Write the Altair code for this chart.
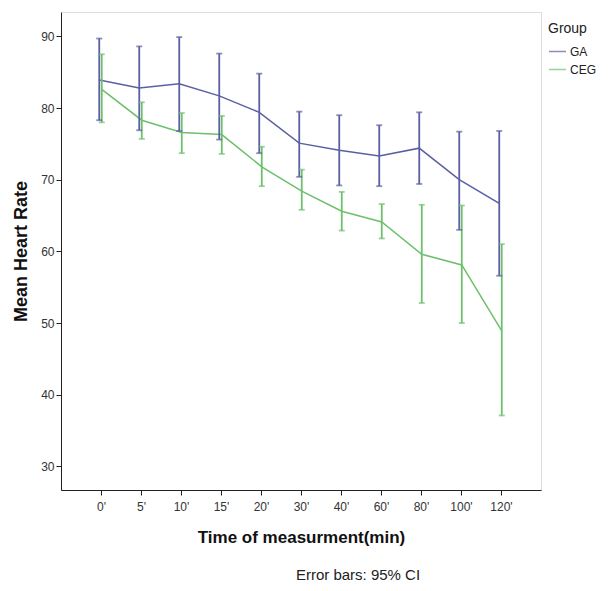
import altair as alt
import pandas as pd

times = ["0'", "5'", "10'", "15'", "20'", "30'", "40'", "60'", "80'", "100'", "120'"]

ga_mean = [83.9, 82.8, 83.4, 81.7, 79.4, 75.1, 74.1, 73.3, 74.4, 70.0, 66.7]
ga_hi = [89.7, 88.6, 89.9, 87.6, 84.8, 79.5, 79.0, 77.6, 79.4, 76.7, 76.8]
ga_lo = [78.3, 76.9, 76.8, 75.6, 73.7, 70.4, 69.2, 69.1, 69.4, 63.0, 56.6]

ceg_mean = [82.6, 78.3, 76.6, 76.3, 71.8, 68.4, 65.6, 64.1, 59.6, 58.1, 48.9]
ceg_hi = [87.5, 80.8, 79.3, 78.9, 74.6, 71.4, 68.3, 66.6, 66.5, 66.4, 61.0]
ceg_lo = [78.0, 75.7, 73.7, 73.6, 69.1, 65.8, 62.9, 61.8, 52.8, 50.0, 37.1]

groups = ["GA", "CEG"]
colors = ["#5a5fa3", "#6cc06c"]

rows = []
for g, m, h, l in [("GA", ga_mean, ga_hi, ga_lo), ("CEG", ceg_mean, ceg_hi, ceg_lo)]:
    for t, mv, hv, lv in zip(times, m, h, l):
        rows.append({"Time": t, "Group": g, "mean": mv, "hi": hv, "lo": lv})
df = pd.DataFrame(rows)

xscale = alt.Scale(type="point", padding=1.12, domain=times)
yscale = alt.Scale(domain=[26.7, 93.4], nice=False, zero=False)
cscale = alt.Scale(domain=groups, range=colors)
oscale = alt.Scale(domain=groups, range=[-3, 2])

xax = alt.Axis(title="Time of measurment(min)", labelAngle=0, labelFontSize=12,
               labelColor="#333333", titleFontSize=17, titleFontWeight="bold",
               titleColor="#111111", titlePadding=17, tickSize=5, domainColor="#222222",
               tickColor="#222222", labelPadding=6, labelFont="Liberation Sans",
               titleFont="Liberation Sans")
yax = alt.Axis(title="Mean Heart Rate", values=[30, 40, 50, 60, 70, 80, 90], grid=False,
               labelFontSize=12, labelColor="#333333", titleFontSize=18,
               titleFontWeight="bold", titleColor="#111111", titlePadding=10,
               tickSize=5, domainColor="#222222", tickColor="#222222",
               labelFont="Liberation Sans", titleFont="Liberation Sans")

base = alt.Chart(df)

line = base.mark_line(strokeWidth=1.5).encode(
    x=alt.X("Time:N", scale=xscale, axis=xax, sort=times),
    y=alt.Y("mean:Q", scale=yscale, axis=yax),
    color=alt.Color("Group:N", scale=cscale,
                    legend=alt.Legend(title="Group", orient="none", legendX=487, legendY=10,
                                      symbolType="stroke", symbolSize=289,
                                      symbolStrokeWidth=1.5, labelFontSize=12,
                                      titleFontSize=14, titleFontWeight="normal",
                                      labelFont="Liberation Sans", titleFont="Liberation Sans",
                                      titleColor="#222222", labelColor="#222222",
                                      rowPadding=2, titlePadding=6, labelOffset=3)),
    xOffset=alt.XOffset("Group:N", scale=oscale),
)

rule = base.mark_rule(strokeWidth=1.8).encode(
    x=alt.X("Time:N", scale=xscale, sort=times),
    y=alt.Y("lo:Q", scale=yscale),
    y2="hi:Q",
    color=alt.Color("Group:N", scale=cscale),
    xOffset=alt.XOffset("Group:N", scale=oscale),
)

cap_hi = base.mark_tick(thickness=1.8, size=6).encode(
    x=alt.X("Time:N", scale=xscale, sort=times),
    y=alt.Y("hi:Q", scale=yscale),
    color=alt.Color("Group:N", scale=cscale),
    xOffset=alt.XOffset("Group:N", scale=oscale),
)
cap_lo = base.mark_tick(thickness=1.8, size=6).encode(
    x=alt.X("Time:N", scale=xscale, sort=times),
    y=alt.Y("lo:Q", scale=yscale),
    color=alt.Color("Group:N", scale=cscale),
    xOffset=alt.XOffset("Group:N", scale=oscale),
)

chart = alt.layer(line, rule, cap_hi, cap_lo).properties(
    width=480, height=478,
    autosize=alt.AutoSizeParams(type="none"),
    padding={"left": 53, "top": 4, "right": 60, "bottom": 92},
    title=alt.TitleParams(text="Error bars: 95% CI", orient="bottom", anchor="middle",
                          dx=57, offset=23, fontSize=15, fontWeight="normal",
                          font="Liberation Sans", color="#222222"),
).configure_view(stroke="#222222", strokeWidth=1).configure(background="white")

chart.save("out.html", embed_options={"renderer": "svg", "actions": False})
